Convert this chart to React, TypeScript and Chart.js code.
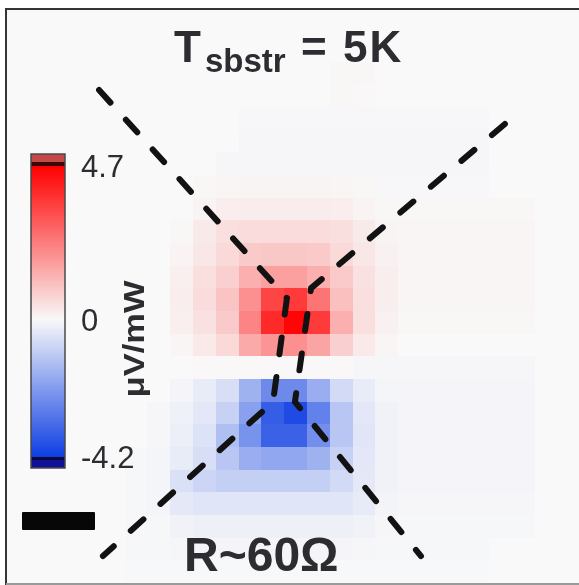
import React, { useEffect, useRef } from "react";
import { Chart, registerables } from "chart.js";

Chart.register(...registerables);

// ---- Data ----
// Heat-map values (µV/mW), rows top→bottom, 25 columns left→right
const heatRows: number[][] = [
  [0, 0, 0, 0, 0, 0, 0, 0, 0, 0, 0, 0, 0, 0, 0, 0, 0, 0, 0, 0, 0, 0, 0, 0, 0],
  [0, 0, 0, 0, 0, 0, 0, 0, 0, 0, 0, 0, 0, 0, 0, 0, 0, 0, 0, 0, 0, 0, 0, 0, 0],
  [0, 0, 0, 0, 0, 0, 0, 0, 0, 0, 0, 0, 0, 0, 0, 0, 0, 0, 0, 0, 0, 0, 0, 0, 0],
  [0, 0, 0, 0, 0, 0, 0, 0, 0, 0, 0, 0, 0, 0, 0.05, 0.05, 0, 0, 0, 0, 0, 0, 0, 0, 0],
  [0, 0, 0, 0, 0, 0, 0, 0, 0, 0, 0, 0, 0, 0, 0.05, 0.04, 0, 0, 0, 0, 0, 0, 0, 0, 0],
  [0, 0, 0, 0, 0, 0, 0, 0, 0, 0, -0.04, -0.04, -0.04, -0.04, -0.04, -0.04, -0.04, -0.04, -0.04, -0.04, -0.04, 0, 0, 0, 0],
  [0, 0, 0, 0, 0, 0, 0, 0, 0, 0, -0.06, -0.06, -0.06, -0.06, -0.06, -0.06, -0.06, -0.06, -0.06, -0.06, -0.06, 0, 0, 0, 0],
  [0, 0, 0, 0, 0, 0, 0, 0, 0, -0.06, -0.06, -0.06, -0.06, -0.06, -0.06, -0.06, -0.06, -0.06, -0.06, -0.06, -0.06, 0, 0, 0, 0],
  [0, 0, 0, 0, 0, 0, 0, 0, 0.06, 0.08, 0.1, 0.1, 0.1, 0.1, 0.08, 0.06, -0.04, -0.04, -0.04, -0.04, -0.04, 0, 0, 0, 0],
  [0, 0, 0, 0, 0, 0, 0, 0, 0.12, 0.22, 0.25, 0.25, 0.25, 0.25, 0.22, 0.12, 0.05, 0.05, 0.05, 0.05, 0.05, 0.05, 0.05, 0, 0],
  [0, 0, 0, 0, 0, 0, 0, 0.06, 0.28, 0.5, 0.55, 0.55, 0.55, 0.55, 0.5, 0.28, 0.1, 0.07, 0.07, 0.07, 0.07, 0.07, 0.07, 0, 0],
  [0, 0, 0, 0, 0, 0, 0, 0.12, 0.35, 0.6, 0.9, 0.95, 0.95, 0.9, 0.6, 0.35, 0.15, 0.08, 0.08, 0.08, 0.08, 0.08, 0.08, 0, 0],
  [0, 0, 0, 0, 0, 0, 0, 0.18, 0.5, 0.8, 1.4, 1.7, 1.7, 1.4, 0.9, 0.45, 0.2, 0.08, 0.08, 0.08, 0.08, 0.08, 0.08, 0, 0],
  [0, 0, 0, 0, 0, 0, 0, 0.22, 0.55, 1.0, 2.0, 3.4, 3.6, 2.5, 1.1, 0.5, 0.2, 0.08, 0.08, 0.08, 0.08, 0.08, 0.08, 0, 0],
  [0, 0, 0, 0, 0, 0, 0, 0.18, 0.45, 0.9, 2.2, 3.9, 4.6, 3.6, 1.4, 0.5, 0.15, 0.06, 0.06, 0.06, 0.06, 0.06, 0.06, 0, 0],
  [0, 0, 0, 0, 0, 0, 0, 0.08, 0.3, 0.6, 1.5, 1.9, 2.0, 1.6, 0.8, 0.3, 0.08, 0, 0, 0, 0, 0, 0, 0, 0],
  [0, 0, 0, 0, 0, 0, 0, 0, 0.04, 0.04, 0.04, 0.04, 0.04, 0.04, 0.04, -0.06, -0.06, -0.06, -0.06, -0.06, -0.06, -0.06, -0.06, 0, 0],
  [0, 0, 0, 0, 0, 0, 0, -0.08, -0.3, -0.6, -1.6, -2.5, -2.5, -1.7, -0.7, -0.3, -0.1, -0.08, -0.08, -0.08, -0.08, -0.08, -0.08, 0, 0],
  [0, 0, 0, 0, 0, 0, -0.06, -0.18, -0.4, -0.9, -2.0, -3.5, -3.9, -2.7, -1.15, -0.4, -0.15, -0.08, -0.08, -0.08, -0.08, -0.08, -0.08, 0, 0],
  [0, 0, 0, 0, 0, 0, -0.06, -0.22, -0.5, -1.3, -2.3, -3.4, -3.4, -2.4, -1.15, -0.45, -0.15, -0.08, -0.08, -0.08, -0.08, -0.08, -0.08, 0, 0],
  [0, 0, 0, 0, 0, -0.05, -0.1, -0.3, -0.6, -1.15, -1.7, -1.85, -1.85, -1.6, -0.9, -0.4, -0.15, -0.08, -0.08, -0.08, -0.08, -0.08, -0.08, 0, 0],
  [0, 0, 0, 0, 0, -0.05, -0.1, -0.55, -0.8, -0.95, -0.95, -0.95, -0.95, -0.95, -0.7, -0.35, -0.15, -0.08, -0.08, -0.08, -0.08, -0.08, -0.08, 0, 0],
  [0, 0, 0, 0, 0, -0.05, -0.1, -0.38, -0.45, -0.45, -0.45, -0.45, -0.45, -0.45, -0.45, -0.32, -0.12, -0.06, -0.06, -0.06, -0.06, -0.06, -0.06, 0, 0],
  [0, 0, 0, 0, 0, -0.04, -0.05, -0.15, -0.2, -0.2, -0.2, -0.2, -0.2, -0.2, -0.2, -0.15, -0.06, -0.05, -0.05, -0.05, -0.05, -0.05, -0.05, 0, 0],
  [0, 0, 0, 0, 0, -0.05, -0.05, -0.06, -0.08, -0.08, -0.08, -0.08, -0.08, -0.08, -0.08, -0.06, -0.05, -0.05, -0.05, -0.05, -0.05, 0, 0, 0, 0],
  [0, 0, 0, 0, 0, -0.03, -0.03, -0.03, -0.03, -0.03, -0.03, -0.03, -0.03, -0.03, -0.03, -0.03, -0.03, -0.03, -0.03, -0.03, -0.03, 0, 0, 0, 0],
];

// Dashed guide lines (data coordinates: column, row)
const dashLeftX = [3.88, 12.12, 11.51, 4.05];
const dashLeftY = [4.25, 13.43, 18.01, 24.81];
const dashRightX = [21.68, 13.18, 12.47, 18.0];
const dashRightY = [5.75, 12.99, 18.01, 24.81];

// Colour bar
const cbMax = 4.7;
const cbMin = -4.2;
const cbTicks = [4.7, 0, -4.2];
const cbTickLabels = ["4.7", "0", "-4.2"];
const cbUnit = "μV/mW";

const titleMain = "T";
const titleSub = "sbstr";
const titleRest = "= 5K";
const bottomLabel = "R~60Ω";

// ---- Colour map ----
const WHITE = [249, 249, 249];
const RED = [255, 0, 0];
const BLUE = [14, 62, 226];
function colorFor(v: number): string {
  let t: number, end: number[];
  if (v >= 0) {
    t = Math.min(v / cbMax, 1);
    end = RED;
  } else {
    t = Math.min(v / cbMin, 1);
    end = BLUE;
  }
  const c = WHITE.map((w, i) => Math.round(w + (end[i] - w) * t));
  return `rgb(${c[0]},${c[1]},${c[2]})`;
}

// colour bar geometry (pixels)
const CB_LEFT = 31;
const CB_RIGHT = 65;
const CB_TOP_GRAD = 166;
const CB_BOT_GRAD = 457;
const cbY = (v: number) =>
  CB_TOP_GRAD + ((cbMax - v) / (cbMax - cbMin)) * (CB_BOT_GRAD - CB_TOP_GRAD);

const FONT = '"Liberation Sans", Arial, Helvetica, sans-serif';
const TEXT = "#2c2c31";

export default function App() {
  const ref = useRef<HTMLCanvasElement>(null);

  useEffect(() => {
    const canvas = ref.current!;

    const heatPlugin = {
      id: "heat",
      beforeDatasetsDraw(chart: any) {
        const { ctx, chartArea, scales } = chart;
        const xs = scales.x;
        const ys = scales.y;
        ctx.save();
        ctx.beginPath();
        ctx.rect(chartArea.left, chartArea.top, chartArea.right - chartArea.left, chartArea.bottom - chartArea.top);
        ctx.clip();
        ctx.fillStyle = colorFor(0);
        ctx.fillRect(chartArea.left, chartArea.top, chartArea.right - chartArea.left, chartArea.bottom - chartArea.top);
        heatRows.forEach((row, r) => {
          row.forEach((v, c) => {
            const x0 = Math.round(xs.getPixelForValue(c));
            const x1 = Math.round(xs.getPixelForValue(c + 1));
            const y0 = Math.round(ys.getPixelForValue(r));
            const y1 = Math.round(ys.getPixelForValue(r + 1));
            ctx.fillStyle = colorFor(v);
            ctx.fillRect(Math.min(x0, x1), Math.min(y0, y1), Math.abs(x1 - x0), Math.abs(y1 - y0));
          });
        });
        ctx.restore();
      },
    };

    const overlayPlugin = {
      id: "overlay",
      afterDatasetsDraw(chart: any) {
        const { ctx, chartArea } = chart;
        ctx.save();
        // colour bar gradient
        const g = ctx.createLinearGradient(0, CB_TOP_GRAD, 0, CB_BOT_GRAD);
        const n = 40;
        for (let i = 0; i <= n; i++) {
          const v = cbMax - ((cbMax - cbMin) * i) / n;
          g.addColorStop(i / n, colorFor(v));
        }
        const w = CB_RIGHT - CB_LEFT;
        ctx.fillStyle = "#c54848";
        ctx.fillRect(CB_LEFT, 154, w, 8);
        ctx.fillStyle = "#3a0808";
        ctx.fillRect(CB_LEFT, 162, w, 4);
        ctx.fillStyle = g;
        ctx.fillRect(CB_LEFT, CB_TOP_GRAD, w, CB_BOT_GRAD - CB_TOP_GRAD);
        ctx.fillStyle = "#0a0a3a";
        ctx.fillRect(CB_LEFT, CB_BOT_GRAD, w, 3);
        ctx.fillStyle = "#10109a";
        ctx.fillRect(CB_LEFT, CB_BOT_GRAD + 3, w, 8);
        ctx.strokeStyle = "#4a4a4a";
        ctx.lineWidth = 1.5;
        ctx.strokeRect(CB_LEFT, 154, w, CB_BOT_GRAD + 11 - 154);

        // frame
        ctx.strokeStyle = "#353535";
        ctx.lineWidth = 2;
        ctx.beginPath();
        ctx.moveTo(chartArea.left - 1, 585);
        ctx.lineTo(chartArea.left - 1, chartArea.top - 1);
        ctx.lineTo(579, chartArea.top - 1);
        ctx.stroke();
        ctx.strokeStyle = "#9a9a9a";
        ctx.beginPath();
        ctx.moveTo(chartArea.left - 1, 584);
        ctx.lineTo(579, 584);
        ctx.stroke();
        ctx.restore();
      },
    };

    const mk = (xs: number[], ys: number[]) => xs.map((x, i) => ({ x, y: ys[i] }));
    const lineStyle = {
      showLine: true,
      borderColor: "#121212",
      borderWidth: 6,
      borderDash: [17, 23],
      borderCapStyle: "round" as const,
      pointRadius: 0,
      tension: 0,
      fill: false,
    };

    const chart = new Chart(canvas, {
      type: "scatter",
      data: {
        datasets: [
          { ...lineStyle, data: mk(dashLeftX, dashLeftY) },
          { ...lineStyle, data: mk(dashRightX, dashRightY) },
        ],
      },
      options: {
        responsive: false,
        animation: false,
        devicePixelRatio: 1,
        events: [],
        layout: { padding: { left: 7, top: 10, right: 0, bottom: 2 } },
        scales: {
          x: { type: "linear", min: -0.158, max: 24.93, display: false },
          y: { type: "linear", reverse: true, min: 0.72, max: 26, display: false },
        },
        plugins: { legend: { display: false }, tooltip: { enabled: false }, title: { display: false } },
      },
      plugins: [heatPlugin, overlayPlugin],
    });
    return () => chart.destroy();
  }, []);

  const txt = (size: number, bold: boolean): React.CSSProperties => ({
    position: "absolute",
    fontFamily: FONT,
    fontSize: size,
    lineHeight: `${size}px`,
    fontWeight: bold ? 700 : 400,
    color: TEXT,
    whiteSpace: "nowrap",
    margin: 0,
  });

  return (
    <div style={{ position: "fixed", left: 0, top: 0, width: 579, height: 585, overflow: "hidden", background: "#fff" }}>
      <canvas ref={ref} width={579} height={585} style={{ display: "block", width: 579, height: 585 }} />
      <div style={{ ...txt(44, true), left: 174, top: 62 - 0.8465 * 44 }}>{titleMain}</div>
      <div style={{ ...txt(33, true), left: 205, top: 72 - 0.8465 * 33 }}>{titleSub}</div>
      <div style={{ ...txt(44, true), left: 301, top: 62 - 0.8465 * 44, letterSpacing: 2 }}>{titleRest}</div>
      <div style={{ ...txt(48, true), left: 184, top: 572 - 0.8465 * 48 }}>{bottomLabel}</div>
      {cbTicks.map((v, i) => (
        <div key={i} style={{ ...txt(31, false), left: 81, top: cbY(v) - 0.4885 * 31 }}>
          {cbTickLabels[i]}
        </div>
      ))}
      <div
        style={{
          ...txt(30, true),
          left: 134,
          top: 339,
          transform: "translate(-50%, -50%) rotate(-90deg) scaleX(1.15)",
        }}
      >
        {cbUnit}
      </div>
      <div style={{ position: "absolute", left: 22, top: 512, width: 73, height: 18, background: "#070707", borderRadius: 1 }} />
    </div>
  );
}
